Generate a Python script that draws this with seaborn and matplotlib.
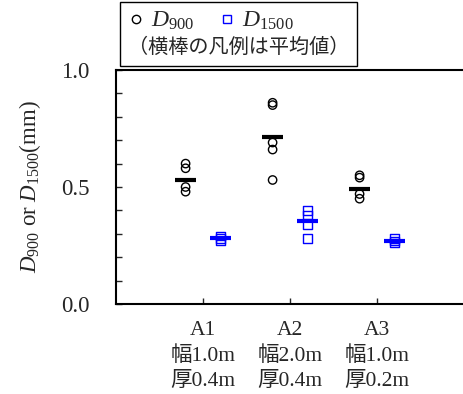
import matplotlib
matplotlib.use("Agg")
import matplotlib.pyplot as plt
from matplotlib.lines import Line2D
from matplotlib.ticker import MultipleLocator
import pandas as pd
import seaborn as sns

# ── Data ────────────────────────────────────────────────────────────────────
groups = ["A1", "A2", "A3"]
group_labels = ["A1\n幅1.0m\n厚0.4m", "A2\n幅2.0m\n厚0.4m", "A3\n幅1.0m\n厚0.2m"]
series = ["D900", "D1500"]
y_ticks = [0.0, 0.5, 1.0]

d900_values = [
    [0.60, 0.58, 0.50, 0.48],
    [0.86, 0.85, 0.69, 0.66, 0.53],
    [0.55, 0.54, 0.47, 0.45],
]
d1500_values = [
    [0.29, 0.28, 0.27],
    [0.40, 0.38, 0.34, 0.28],
    [0.28, 0.27, 0.26],
]
# mean bars as drawn in the figure
d900_means = [0.53, 0.715, 0.49]
d1500_means = [0.28, 0.355, 0.27]

rows = []
for g, vals in zip(groups, d900_values):
    rows += [{"group": g, "series": "D900", "value": v} for v in vals]
for g, vals in zip(groups, d1500_values):
    rows += [{"group": g, "series": "D1500", "value": v} for v in vals]
df = pd.DataFrame(rows)

# ── Styling ─────────────────────────────────────────────────────────────────
sns.set_style("white")
plt.rcParams["font.family"] = ["Liberation Serif", "Noto Sans CJK JP"]
plt.rcParams.update({
    "mathtext.fontset": "custom",
    "mathtext.rm": "Liberation Serif",
    "mathtext.it": "Liberation Serif:italic",
    "axes.linewidth": 1.5,
})

fig = plt.figure(figsize=(4.63, 3.94), dpi=100)
ax = fig.add_axes([116 / 463, 1 - 304 / 394, 348 / 463, 234 / 394])

colors = {"D900": "black", "D1500": "blue"}
markers = {"D900": "o", "D1500": "s"}

for name in series:
    n_before = len(ax.collections)
    sns.stripplot(
        data=df[df["series"] == name], x="group", y="value",
        hue="series", hue_order=series, order=groups, palette=colors,
        dodge=True, jitter=False, marker=markers[name], size=6,
        linewidth=1, legend=False, ax=ax,
    )
    for coll in ax.collections[n_before:]:
        coll.set_facecolor("none")
        coll.set_edgecolor(colors[name])
        coll.set_linewidth(1.0)

# mean bars
for i in range(len(groups)):
    ax.hlines(d900_means[i], i - 0.2 - 0.12, i - 0.2 + 0.12, color="black", lw=3)
    ax.hlines(d1500_means[i], i + 0.2 - 0.12, i + 0.2 + 0.12, color="blue", lw=3)

ax.set_xlim(-1, 3)
ax.set_ylim(0, 1.0)
ax.set_xticks(range(len(groups)))
ax.set_xticklabels(group_labels, fontsize=15.5, linespacing=1.45)
ax.set_yticks(y_ticks)
ax.set_yticklabels([f"{t:.1f}" for t in y_ticks], fontsize=16.5)
ax.yaxis.set_minor_locator(MultipleLocator(0.1))
ax.tick_params(axis="y", which="both", direction="in", length=4, width=1, pad=19, left=True)
ax.tick_params(axis="x", direction="in", length=4.5, width=1, pad=12, bottom=True)
ax.set_xlabel("")
ax.set_ylabel(r"$D_{900}$ or $D_{1500}$(mm)", fontsize=16.5, labelpad=13)
for side in ["top", "left", "bottom"]:
    ax.spines[side].set_visible(True)
    ax.spines[side].set_color("black")
ax.spines["right"].set_visible(False)

# legend: entries on top, note underneath
handles = [
    Line2D([], [], ls="none", marker="o", mfc="none", mec="black", ms=6, mew=1),
    Line2D([], [], ls="none", marker="s", mfc="none", mec="blue", ms=6, mew=1),
]
leg = ax.legend(
    handles, [r"$D_{900}$", r"$D_{1500}$"], ncol=2,
    title="（横棒の凡例は平均値）",
    title_fontproperties={"family": "Noto Sans CJK JP", "size": 14.5},
    loc="lower left", bbox_to_anchor=(0.0, 1.0), borderaxespad=0.15,
    fontsize=17, handlelength=0.7, handletextpad=0.3, columnspacing=1.0,
    frameon=True, fancybox=False, framealpha=1, edgecolor="black",
    alignment="left", borderpad=0.35, labelspacing=0.2,
)
leg.get_frame().set_linewidth(1.0)
leg._legend_box._children.reverse()
leg._legend_handle_box.set_offset((0, 0))

fig.savefig("out.png", dpi=100)
plt.close(fig)
